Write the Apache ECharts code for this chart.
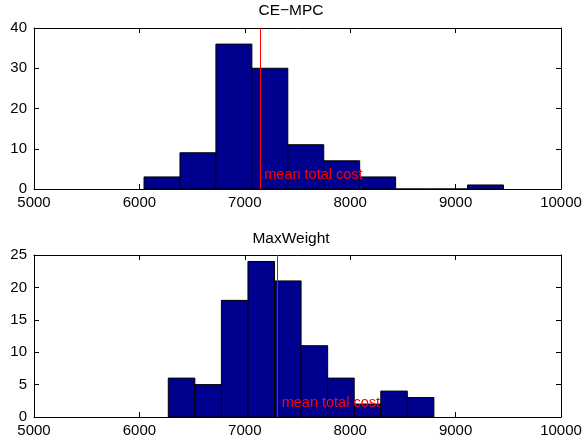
<!DOCTYPE html>
<html>
<head>
<meta charset="utf-8">
<script src="https://cdn.jsdelivr.net/npm/echarts@6/dist/echarts.min.js"></script>
<style>html,body{margin:0;padding:0;background:#fff;}#c{width:582px;height:442px;}</style>
</head>
<body>
<div id="c"></div>
<script>
// Data
const topTitle = 'CE\u2212MPC';
const bottomTitle = 'MaxWeight';
const topEdges = [6044, 6385, 6726, 7067, 7408, 7749, 8090, 8431, 8772, 9113, 9454];
const topCounts = [3, 9, 36, 30, 11, 7, 3, 0, 0, 1];
const topMean = 7147;
const bottomEdges = [6274, 6526, 6778, 7030, 7282, 7534, 7786, 8038, 8290, 8542, 8794];
const bottomCounts = [6, 5, 18, 24, 21, 11, 6, 2, 4, 3];
const bottomMean = 7312;
const xTicks = [5000, 6000, 7000, 8000, 9000, 10000];
const topYTicks = [0, 10, 20, 30, 40];
const bottomYTicks = [0, 5, 10, 15, 20, 25];
const meanLabel = 'mean total cost';

const FONT = '"Liberation Sans", Arial, Helvetica, sans-serif';
const FS = 15;

function bins(edges, counts) {
  return counts.map((c, i) => [edges[i], edges[i + 1], c]);
}

function renderBar(params, api) {
  const x0 = api.value(0), x1 = api.value(1), c = api.value(2);
  const p0 = api.coord([x0, c]);
  const p1 = api.coord([x1, 0]);
  return {
    type: 'rect',
    shape: { x: p0[0], y: p0[1], width: p1[0] - p0[0], height: p1[1] - p0[1] },
    style: { fill: '#00008f', stroke: '#000', lineWidth: 1 }
  };
}

function renderText(params, api) {
  const p = api.coord([api.value(0), 0]);
  return {
    type: 'text',
    x: p[0] + 4, y: p[1] - 14,
    style: { text: meanLabel, fill: '#ff0000', font: '14.5px ' + FONT, verticalAlign: 'middle', align: 'left' }
  };
}

function plainFmt(v) { return String(v); }

function xAxes(gridIndex) {
  const base = {
    type: 'value', gridIndex, min: xTicks[0], max: xTicks[xTicks.length - 1], interval: 1000,
    splitLine: { show: false },
    axisLine: { show: true, onZero: false, lineStyle: { color: '#000', width: 1 } },
    axisTick: { show: true, inside: true, length: 5, lineStyle: { color: '#000' } }
  };
  return [
    Object.assign({}, base, { position: 'bottom',
      axisLabel: { show: true, color: '#000', fontSize: FS, fontFamily: FONT, margin: 6, formatter: plainFmt } }),
    Object.assign({}, base, { position: 'top', axisLabel: { show: false } })
  ];
}

function yAxes(gridIndex, ticks) {
  const base = {
    type: 'value', gridIndex, min: ticks[0], max: ticks[ticks.length - 1], interval: ticks[1] - ticks[0],
    splitLine: { show: false },
    axisLine: { show: true, onZero: false, lineStyle: { color: '#000', width: 1 } },
    axisTick: { show: true, inside: true, length: 5, lineStyle: { color: '#000' } }
  };
  return [
    Object.assign({}, base, { position: 'left',
      axisLabel: { show: true, color: '#000', fontSize: FS, fontFamily: FONT, margin: 7, formatter: plainFmt } }),
    Object.assign({}, base, { position: 'right', axisLabel: { show: false } })
  ];
}

function meanLine(v) {
  return {
    silent: true, symbol: 'none', animation: false,
    label: { show: false },
    lineStyle: { color: '#ff0000', width: 1, type: 'solid' },
    data: [{ xAxis: v }]
  };
}

const chart = echarts.init(document.getElementById('c'));
chart.setOption({
  animation: false,
  backgroundColor: '#fff',
  title: [
    { text: topTitle, left: 'center', top: 3, padding: 0, textStyle: { fontSize: 15.5, fontWeight: 'normal', color: '#000', fontFamily: FONT } },
    { text: bottomTitle, left: 'center', top: 231, padding: 0, textStyle: { fontSize: 15.5, fontWeight: 'normal', color: '#000', fontFamily: FONT } }
  ],
  grid: [
    { left: 34, right: 21, top: 28, height: 161, containLabel: false, outerBoundsMode: 'none' },
    { left: 34, right: 21, top: 255, height: 162, containLabel: false, outerBoundsMode: 'none' }
  ],
  xAxis: [...xAxes(0), ...xAxes(1)],
  yAxis: [...yAxes(0, topYTicks), ...yAxes(1, bottomYTicks)],
  series: [
    { type: 'custom', xAxisIndex: 0, yAxisIndex: 0, renderItem: renderBar, data: bins(topEdges, topCounts),
      encode: { x: [0, 1], y: 2 }, markLine: meanLine(topMean), z: 2 },
    { type: 'custom', xAxisIndex: 0, yAxisIndex: 0, renderItem: renderText, data: [[topMean]], encode: { x: 0 }, z: 5 },
    { type: 'custom', xAxisIndex: 2, yAxisIndex: 2, renderItem: renderBar, data: bins(bottomEdges, bottomCounts),
      encode: { x: [0, 1], y: 2 }, markLine: meanLine(bottomMean), z: 2 },
    { type: 'custom', xAxisIndex: 2, yAxisIndex: 2, renderItem: renderText, data: [[bottomMean]], encode: { x: 0 }, z: 5 }
  ]
});
</script>
</body>
</html>
